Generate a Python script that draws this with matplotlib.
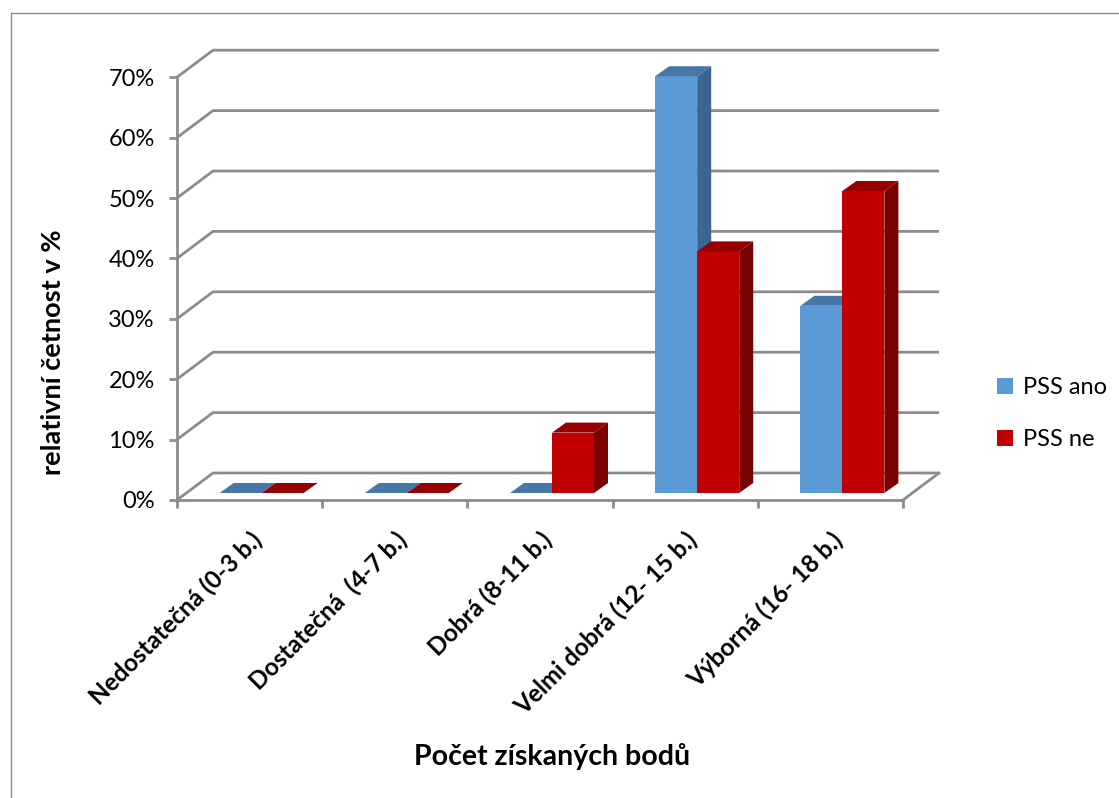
import matplotlib
matplotlib.use("Agg")
import matplotlib.pyplot as plt
from matplotlib.patches import Polygon
from matplotlib.lines import Line2D

# data
categories = ["Nedostatečná (0-3 b.)", "Dostatečná  (4-7 b.)", "Dobrá (8-11 b.)",
              "Velmi dobrá (12- 15 b.)", "Výborná (16- 18 b.)"]
pss_ano = [0, 0, 0, 69, 31]
pss_ne = [0, 0, 10, 40, 50]
series_names = ["PSS ano", "PSS ne"]
yticks = [0, 10, 20, 30, 40, 50, 60, 70]

plt.rcParams['font.family'] = ['Lato', 'DejaVu Sans']

W_PX, H_PX = 1119, 798
fig = plt.figure(figsize=(W_PX / 100, H_PX / 100), dpi=100)

# pixel geometry of the pseudo-3D plot
x0_px, y0_px = 177, 500          # front origin
cat_px = 145.2                    # pixels per category
pct_px = 6.04                     # pixels per percent
xmax, ymax = 5.3, 75.5
ax = fig.add_axes([x0_px / W_PX, (H_PX - y0_px) / H_PX,
                   xmax * cat_px / W_PX, ymax * pct_px / H_PX])
ax.set_xlim(0, xmax)
ax.set_ylim(0, ymax)

grid_col = '#8c8c8c'
lw = 2.0
# depth offsets (data units)
bdx, bdy = 36 / cat_px, 27 / pct_px      # back wall
pdx, pdy = 12 / cat_px, 7 / pct_px       # bar plane
ddx, ddy = 14 / cat_px, 10 / pct_px      # bar depth
bw = 42 / cat_px
n = len(categories)

# gridlines: diagonal on the side wall + horizontal on back wall
for t in yticks:
    ax.plot([0, bdx, n + bdx], [t, t + bdy, t + bdy], color=grid_col, lw=lw,
            solid_capstyle='butt', clip_on=False, zorder=1)
# floor right edge
ax.plot([n, n + bdx], [0, bdy], color=grid_col, lw=lw, clip_on=False, zorder=1)

colors = [('#5b9bd5', '#4677a6', '#3a6690'), ('#c00000', '#960000', '#7b0000')]
for s, vals in enumerate([pss_ano, pss_ne]):
    front, top_c, side_c = colors[s]
    lefts = [i + 0.5 - bw + s * bw + pdx for i in range(n)]
    ax.bar(lefts, vals, width=bw, bottom=pdy, align='edge', color=front,
           label=series_names[s], zorder=3)
    for xl, v in zip(lefts, vals):
        top = pdy + v
        ax.add_patch(Polygon([(xl, top), (xl + bw, top), (xl + bw + ddx, top + ddy),
                              (xl + ddx, top + ddy)], closed=True, fc=top_c, ec='none', zorder=3))
        if v > 0:
            ax.add_patch(Polygon([(xl + bw, pdy), (xl + bw + ddx, pdy + ddy),
                                  (xl + bw + ddx, top + ddy), (xl + bw, top)],
                                 closed=True, fc=side_c, ec='none', zorder=3))

# axes
for sp in ['top', 'right']:
    ax.spines[sp].set_visible(False)
ax.spines['left'].set_bounds(0, 70)
ax.spines['bottom'].set_bounds(0, n)
for sp in ['left', 'bottom']:
    ax.spines[sp].set_color(grid_col)
    ax.spines[sp].set_linewidth(lw)
    ax.spines[sp].set_zorder(2)
ax.patch.set_visible(False)

ax.set_yticks(yticks)
ax.set_yticklabels([f"{t}%" for t in yticks], fontsize=17)
ax.tick_params(axis='y', length=6, width=lw, color=grid_col, pad=10)

ax.set_xticks(range(n + 1), minor=True)
ax.tick_params(axis='x', which='minor', length=6, width=lw, color=grid_col)
ax.set_xticks([i + 0.5 for i in range(n)])
ax.set_xticklabels(categories, rotation=45, ha='right', va='top',
                   rotation_mode='anchor', fontsize=17.5, fontweight='bold')
ax.tick_params(axis='x', which='major', length=0, pad=20)

fig.text(53 / W_PX, 1 - 352 / H_PX, "relativní četnost v %", rotation=90,
         ha='center', va='center', fontsize=19.5, fontweight='bold')
fig.text(552 / W_PX, 1 - 757 / H_PX, "Počet získaných bodů",
         ha='center', va='center', fontsize=20.5, fontweight='bold')

fig.legend(loc='upper left', bbox_to_anchor=(988 / W_PX, 1 - 368 / H_PX),
           frameon=False, fontsize=17, handlelength=0.65, handleheight=0.65,
           handletextpad=0.45, labelspacing=1.3, borderaxespad=0)

# outer chart frame
fig.add_artist(Line2D([11 / W_PX, 11 / W_PX], [0, 1 - 13 / H_PX], color='#8c8c8c', lw=1.0))
fig.add_artist(Line2D([11 / W_PX, 1], [1 - 13 / H_PX, 1 - 13 / H_PX], color='#8c8c8c', lw=1.0))

fig.savefig("out.png", dpi=100, facecolor='white')
